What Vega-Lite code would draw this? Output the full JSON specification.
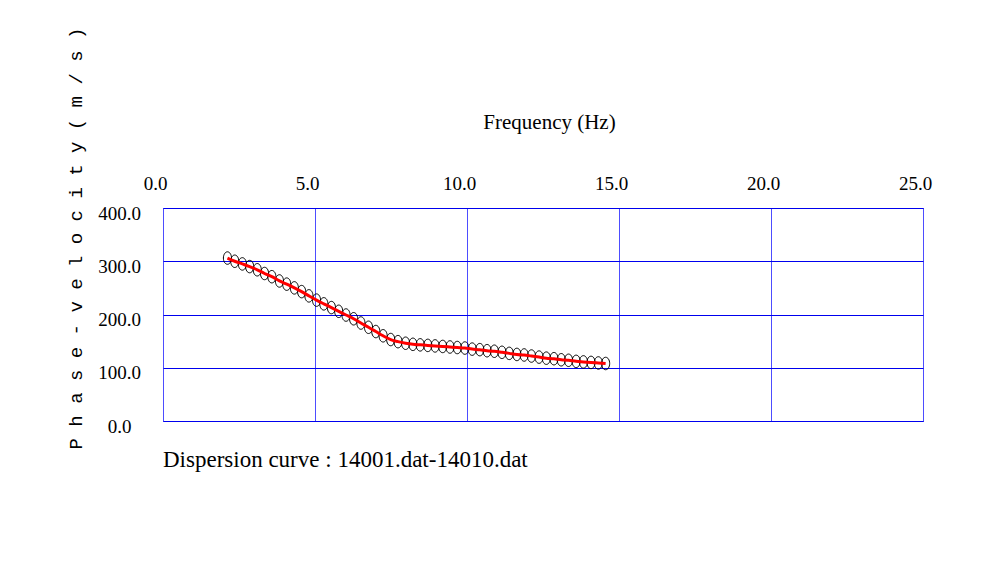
{
  "$schema": "https://vega.github.io/schema/vega-lite/v6.json",
  "width": 760,
  "height": 213,
  "autosize": {"type": "none"},
  "padding": {"left": 163, "top": 208, "right": 83, "bottom": 158},
  "background": "white",
  "config": {
    "view": {"stroke": "#0000ff", "strokeWidth": 1},
    "axis": {
      "labelFont": "Liberation Serif",
      "labelFontSize": 19,
      "labelColor": "black",
      "titleColor": "black",
      "gridOpacity": 1,
      "gridWidth": 1,
      "domain": false,
      "ticks": false,
      "tickSize": 0,
      "labelFlush": false,
      "labelOverlap": false,
      "labelBound": false
    },
    "axisX": {"gridColor": "#4d4dff"},
    "axisY": {"gridColor": "#0000ee"}
  },
  "title": {
    "text": "Dispersion curve : 14001.dat-14010.dat",
    "orient": "bottom",
    "anchor": "start",
    "frame": "group",
    "offset": -6,
    "font": "Liberation Serif",
    "fontSize": 23,
    "fontWeight": "normal",
    "color": "black"
  },
  "data": {
    "values": [
      {"f": 2.12, "v": 306}, {"f": 2.36, "v": 300}, {"f": 2.61, "v": 295}, {"f": 2.85, "v": 290},
      {"f": 3.10, "v": 284}, {"f": 3.34, "v": 277}, {"f": 3.58, "v": 271}, {"f": 3.83, "v": 263},
      {"f": 4.07, "v": 257}, {"f": 4.32, "v": 250}, {"f": 4.56, "v": 243}, {"f": 4.80, "v": 235},
      {"f": 5.05, "v": 227}, {"f": 5.29, "v": 220}, {"f": 5.54, "v": 213}, {"f": 5.78, "v": 206},
      {"f": 6.02, "v": 199}, {"f": 6.27, "v": 192}, {"f": 6.51, "v": 184}, {"f": 6.76, "v": 176},
      {"f": 7.00, "v": 168}, {"f": 7.24, "v": 160}, {"f": 7.49, "v": 153}, {"f": 7.73, "v": 149},
      {"f": 7.98, "v": 146}, {"f": 8.22, "v": 144}, {"f": 8.46, "v": 143}, {"f": 8.71, "v": 142},
      {"f": 8.95, "v": 141}, {"f": 9.20, "v": 140}, {"f": 9.44, "v": 139}, {"f": 9.68, "v": 138},
      {"f": 9.93, "v": 137}, {"f": 10.17, "v": 135}, {"f": 10.42, "v": 134}, {"f": 10.66, "v": 132},
      {"f": 10.90, "v": 131}, {"f": 11.15, "v": 129}, {"f": 11.39, "v": 127}, {"f": 11.64, "v": 125},
      {"f": 11.88, "v": 124}, {"f": 12.12, "v": 122}, {"f": 12.37, "v": 120}, {"f": 12.61, "v": 118},
      {"f": 12.86, "v": 117}, {"f": 13.10, "v": 115}, {"f": 13.34, "v": 114}, {"f": 13.59, "v": 112},
      {"f": 13.83, "v": 111}, {"f": 14.08, "v": 110}, {"f": 14.32, "v": 109}, {"f": 14.56, "v": 108}
    ]
  },
  "encoding": {
    "x": {
      "field": "f",
      "type": "quantitative",
      "scale": {"domain": [0, 25], "nice": false, "zero": false},
      "axis": {
        "orient": "top",
        "values": [0, 5, 10, 15, 20, 25],
        "format": ".1f",
        "grid": true,
        "labelPadding": 19,
        "labelBaseline": "alphabetic",
        "labelOffset": -8,
        "title": "Frequency (Hz)",
        "titleFont": "Liberation Serif",
        "titleFontSize": 21,
        "titleFontWeight": "normal",
        "titleAlign": "center",
        "titleBaseline": "alphabetic",
        "titleX": 386,
        "titleY": -80
      }
    },
    "y": {
      "field": "v",
      "type": "quantitative",
      "scale": {"domain": [0, 400], "nice": false},
      "axis": {
        "values": [0, 100, 200, 300, 400],
        "format": ".1f",
        "grid": true,
        "labelAlign": "center",
        "labelBaseline": "alphabetic",
        "labelPadding": 44,
        "labelOffset": 11,
        "title": "P h a s e - v e l o c i t y  ( m / s )",
        "titleFont": "Liberation Mono",
        "titleFontSize": 19,
        "titleFontWeight": "normal",
        "titleAngle": -90,
        "titleAlign": "center",
        "titleBaseline": "middle",
        "titleX": -88,
        "titleY": 30
      }
    }
  },
  "layer": [
    {
      "mark": {
        "type": "point",
        "shape": "M -0.65 0 A 0.65 1 0 1 0 0.65 0 A 0.65 1 0 1 0 -0.65 0 Z",
        "size": 156,
        "filled": false,
        "stroke": "black",
        "strokeWidth": 1,
        "opacity": 1
      }
    },
    {
      "mark": {"type": "line", "color": "#ff0000", "strokeWidth": 3, "interpolate": "monotone"}
    }
  ]
}
